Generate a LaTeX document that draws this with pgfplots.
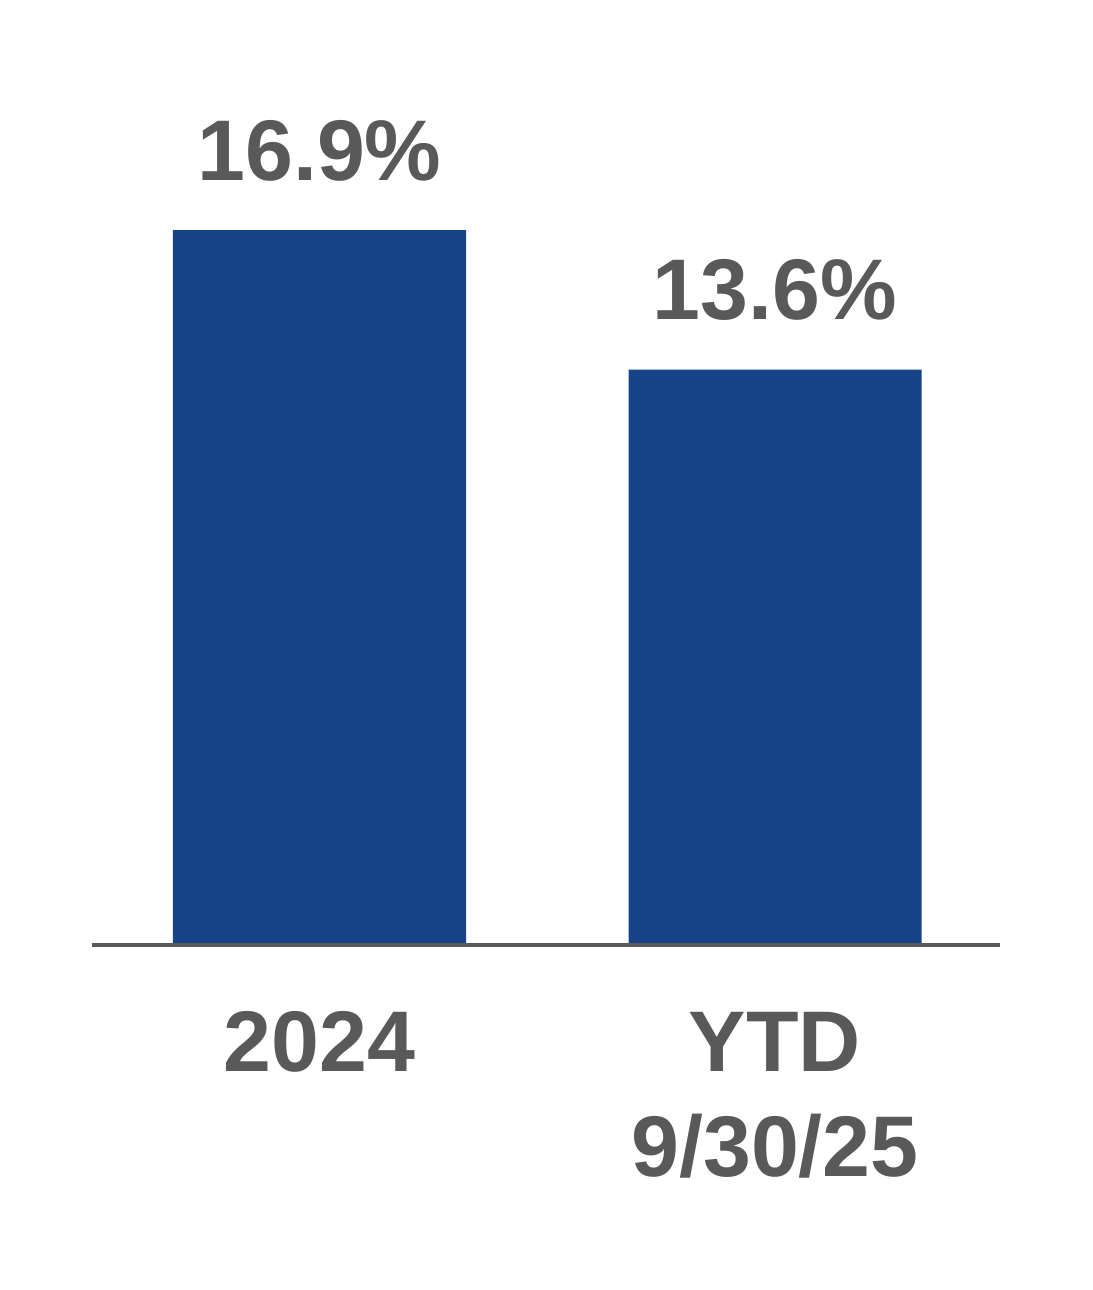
\documentclass[border=0pt]{standalone}
\usepackage{pgfplots}
\pgfplotsset{compat=1.18}
\usepackage{fontspec}
\setmainfont{Liberation Sans}
\definecolor{barblue}{HTML}{174489}
\definecolor{txtgray}{HTML}{595959}
\begin{document}
\begin{tikzpicture}
\useasboundingbox (0,0) rectangle (364pt,430pt);
\begin{axis}[
  at={(30.67pt,115pt)}, anchor=south west,
  scale only axis,
  width=302.67pt, height=282pt,
  xmin=-0.4994, xmax=1.494, ymin=0, ymax=20,
  axis on top,
  axis x line=bottom, axis line style={draw=txtgray, line width=1.33pt, -},
  hide y axis,
  xtick=data, xticklabels={{2024\\\phantom{9}},{YTD\\9/30/25}},
  major tick length=0pt,
  xticklabel style={anchor=base, yshift=-77.3pt, align=center, text=txtgray,
    font=\fontsize{28.7}{35}\selectfont\bfseries},
  ybar, bar width=97.67pt,
  point meta=explicit symbolic,
  nodes near coords,
  nodes near coords style={anchor=base, yshift=16.7pt, text=txtgray,
    font=\fontsize{28.7}{35}\selectfont\bfseries},
  clip=false,
]
\addplot[fill=barblue, draw=none] coordinates {(0,16.9) [16.9\%] (1,13.6) [13.6\%]};
\end{axis}
\end{tikzpicture}
\end{document}
